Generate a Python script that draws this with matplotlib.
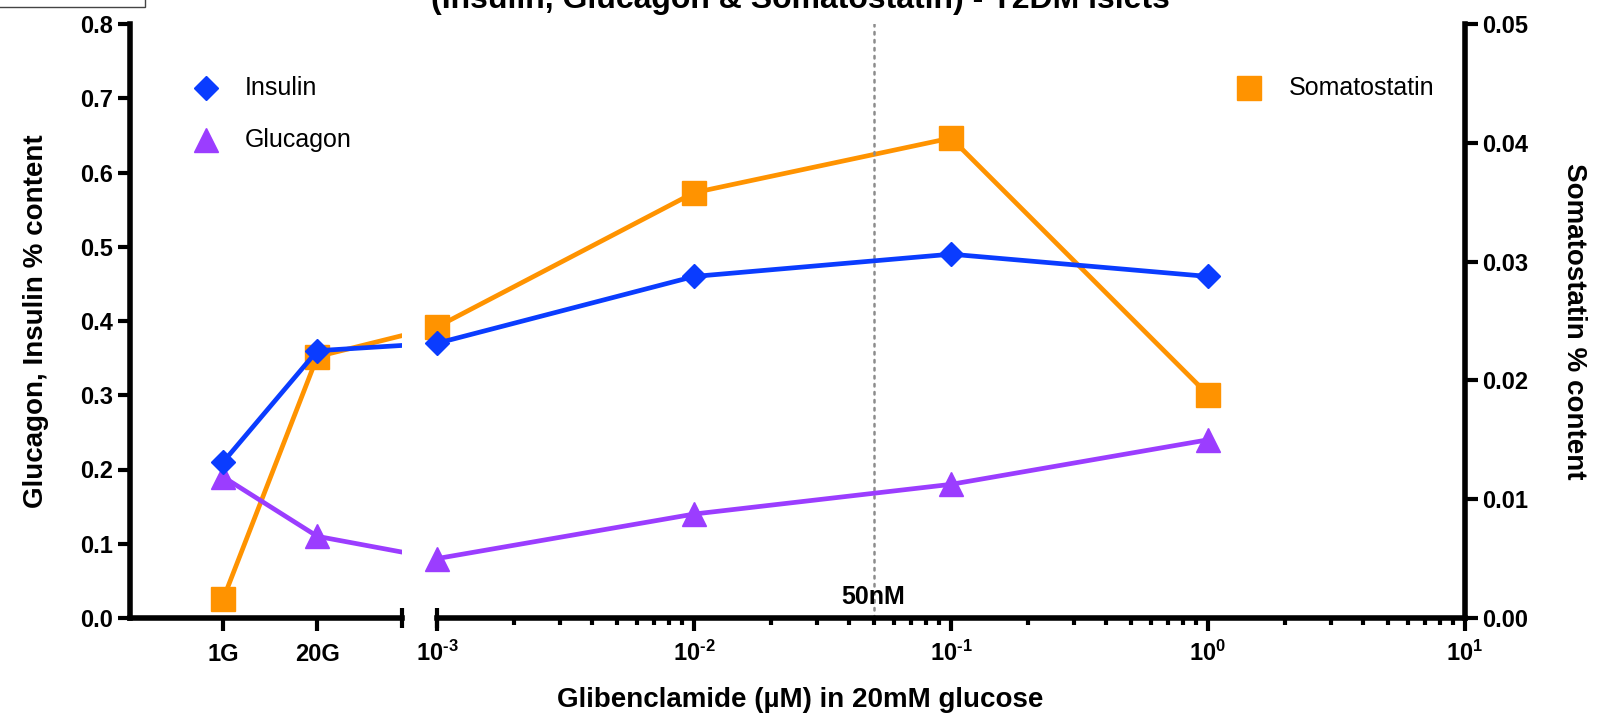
import numpy as np
import matplotlib
matplotlib.use("Agg")
import matplotlib.pyplot as plt
from matplotlib.ticker import FixedLocator, LogLocator, NullFormatter
from matplotlib.patches import Rectangle
from matplotlib.lines import Line2D

plt.rcParams['font.family'] = ['Liberation Sans', 'DejaVu Sans']
plt.rcParams['mathtext.fontset'] = 'custom'
plt.rcParams['mathtext.rm'] = 'Liberation Sans:bold'
plt.rcParams['mathtext.bf'] = 'Liberation Sans:bold'
plt.rcParams['mathtext.default'] = 'bf'

# ---- data -------------------------------------------------------------
glucose_labels = ["1G", "20G"]
glib_conc = [1e-3, 1e-2, 1e-1, 1e0]          # µM, in 20 mM glucose

insulin_glucose = [0.21, 0.36]
insulin_glib = [0.37, 0.46, 0.49, 0.46]

glucagon_glucose = [0.19, 0.11]
glucagon_glib = [0.08, 0.14, 0.18, 0.24]

somato_glucose = [0.0016, 0.022]
somato_glib = [0.0245, 0.0358, 0.0404, 0.0188]

left_ticks = [0.0, 0.1, 0.2, 0.3, 0.4, 0.5, 0.6, 0.7, 0.8]
right_ticks = [0.00, 0.01, 0.02, 0.03, 0.04, 0.05]
log_major = [1e-3, 1e-2, 1e-1, 1e0, 1e1]
log_labels = [r"$10^{\text{-}3}$", r"$10^{\text{-}2}$", r"$10^{\text{-}1}$",
              r"$10^{0}$", r"$10^{1}$"]
threshold_conc = 0.05  # 50 nM

C_INS = "#0A3CFF"
C_GLU = "#9B3DFF"
C_SOM = "#FF9300"

# ---- layout -----------------------------------------------------------
W, H = 1597, 724
fig = plt.figure(figsize=(W / 100, H / 100), dpi=100)

def fx(px):
    return px / W

def fy(py):
    return 1 - py / H

ax_bottom, ax_top = fy(618), fy(24)
axh = ax_top - ax_bottom
l1, r1 = fx(130), fx(402)
l2, r2 = fx(437), fx(1465)

ax1 = fig.add_axes([l1, ax_bottom, r1 - l1, axh])
ax1r = ax1.twinx()
ax2 = fig.add_axes([l2, ax_bottom, r2 - l2, axh])
ax2r = ax2.twinx()

SPINE_LW = 4.0
TICK_W = 3.0
LINE_LW = 3.4

for a in (ax1, ax2):
    a.set_zorder(3)
    a.patch.set_visible(False)
for a in (ax1r, ax2r):
    a.set_zorder(2)

for a in (ax1, ax1r, ax2, ax2r):
    for s in a.spines.values():
        s.set_visible(False)
        s.set_linewidth(SPINE_LW)

ax1.spines['left'].set_visible(True)
ax1.spines['bottom'].set_visible(True)
ax2.spines['bottom'].set_visible(True)
ax2r.spines['right'].set_visible(True)

YMAX_L, YMAX_R = 0.8, 0.05
for a in (ax1, ax2):
    a.set_ylim(0, YMAX_L)
for a in (ax1r, ax2r):
    a.set_ylim(0, YMAX_R)

# left (categorical) segment
x1min, x1max = -0.99, 1.90
ax1.set_xlim(x1min, x1max)
cat_x = np.arange(len(glucose_labels))
# x position (in ax1 units) of the first glibenclamide dose, across the gap
bridge_x = x1max + (l2 - r1) / (r1 - l1) * (x1max - x1min)

# log segment
ax2.set_xscale('log')
ax2.set_xlim(1e-3, 1e1)
ax2r.set_xscale('log')
ax2r.set_xlim(1e-3, 1e1)

# ---- ticks ------------------------------------------------------------
tick_font = dict(fontsize=17, fontweight='bold')

ax1.set_yticks(left_ticks)
ax1.set_yticklabels([f"{v:.1f}" for v in left_ticks], **tick_font)
ax1.tick_params(axis='y', direction='out', length=9, width=TICK_W, pad=3)
ax1.set_xticks(cat_x)
ax1.set_xticklabels(glucose_labels, fontsize=17, fontweight='bold')
ax1.tick_params(axis='x', direction='out', length=9, width=TICK_W, pad=9)
ax1r.set_yticks([])

ax2.set_yticks([])
ax2.xaxis.set_major_locator(FixedLocator(log_major))
ax2.set_xticklabels(log_labels, fontsize=17)
ax2.xaxis.set_minor_locator(LogLocator(base=10, subs=np.arange(2, 10)))
ax2.xaxis.set_minor_formatter(NullFormatter())
ax2.tick_params(axis='x', which='major', direction='out', length=9, width=TICK_W, pad=7)
ax2.tick_params(axis='x', which='minor', direction='out', length=5, width=TICK_W)

ax2r.set_yticks(right_ticks)
ax2r.set_yticklabels([f"{v:.2f}" for v in right_ticks], **tick_font)
ax2r.tick_params(axis='y', direction='out', length=9, width=TICK_W, pad=3)
ax2r.tick_params(axis='x', which='both', length=0, labelbottom=False)

# break markers at both ends of the gap
ax1.plot([x1max], [0], marker='|', ms=15, mew=TICK_W, color='k', clip_on=False, zorder=10)
ax2.plot([1e-3], [0], marker='|', ms=15, mew=TICK_W, color='k', clip_on=False, zorder=10)

# ---- threshold line ---------------------------------------------------
ax2.axvline(threshold_conc, color='#8c8c8c', lw=1.8, ls=(0, (1, 2.2)),
            dash_capstyle='round', zorder=1)
ax2.text(threshold_conc, 0.028, "50nM", ha='center', va='center',
         fontsize=18, fontweight='bold', zorder=2)

# ---- series -----------------------------------------------------------
series_left = [
    (glucagon_glucose, glucagon_glib, C_GLU, '^', 17),
    (insulin_glucose, insulin_glib, C_INS, 'D', 12),
]
for g_vals, d_vals, col, mk, ms in series_left:
    ax1.plot(list(cat_x) + [bridge_x], g_vals + d_vals[:1], color=col,
             lw=LINE_LW, solid_capstyle='butt', zorder=3)
    ax1.plot(cat_x, g_vals, ls='none', marker=mk, ms=ms, color=col,
             mec=col, clip_on=False, zorder=4)
    ax2.plot(glib_conc, d_vals, color=col, lw=LINE_LW, marker=mk, ms=ms,
             mec=col, clip_on=False, zorder=4)

ax1r.plot(list(cat_x) + [bridge_x], somato_glucose + somato_glib[:1], color=C_SOM,
          lw=LINE_LW, solid_capstyle='butt', zorder=3)
ax1r.plot(cat_x, somato_glucose, ls='none', marker='s', ms=17, color=C_SOM,
          mec=C_SOM, clip_on=False, zorder=4)
ax2r.plot(glib_conc, somato_glib, color=C_SOM, lw=LINE_LW, marker='s', ms=17,
          mec=C_SOM, clip_on=False, zorder=4)

# ---- legends ----------------------------------------------------------
legend_items = [
    (206, 88, 245, "Insulin", C_INS, 'D', 12),
    (206, 140, 245, "Glucagon", C_GLU, '^', 17),
    (1249, 88, 1289, "Somatostatin", C_SOM, 's', 17),
]
for mx, my, tx, label, col, mk, ms in legend_items:
    fig.add_artist(Line2D([fx(mx)], [fy(my)], marker=mk, ms=ms, color=col,
                          mec=col, ls='none', transform=fig.transFigure))
    fig.text(fx(tx), fy(my), label, ha='left', va='center', fontsize=18)

# ---- labels -----------------------------------------------------------
fig.text(fx(36), fy(321), "Glucagon, Insulin % content", rotation=90,
         ha='center', va='center', fontsize=20, fontweight='bold')
fig.text(fx(1574), fy(321), "Somatostatin % content", rotation=270,
         ha='center', va='center', fontsize=20, fontweight='bold')
fig.text(fx(800), fy(700), "Glibenclamide (µM) in 20mM glucose",
         ha='center', va='center', fontsize=20, fontweight='bold')
fig.text(fx(800), fy(8), "(Insulin, Glucagon & Somatostatin) - T2DM islets",
         ha='center', va='baseline', fontsize=23, fontweight='bold')

# frame of the panel tag in the corner
fig.add_artist(Rectangle((fx(0) - 0.01, fy(7)), fx(145) + 0.01, 0.05,
                         transform=fig.transFigure, fill=False,
                         edgecolor='#444444', lw=1.0))

fig.savefig("out.png", dpi=100)
